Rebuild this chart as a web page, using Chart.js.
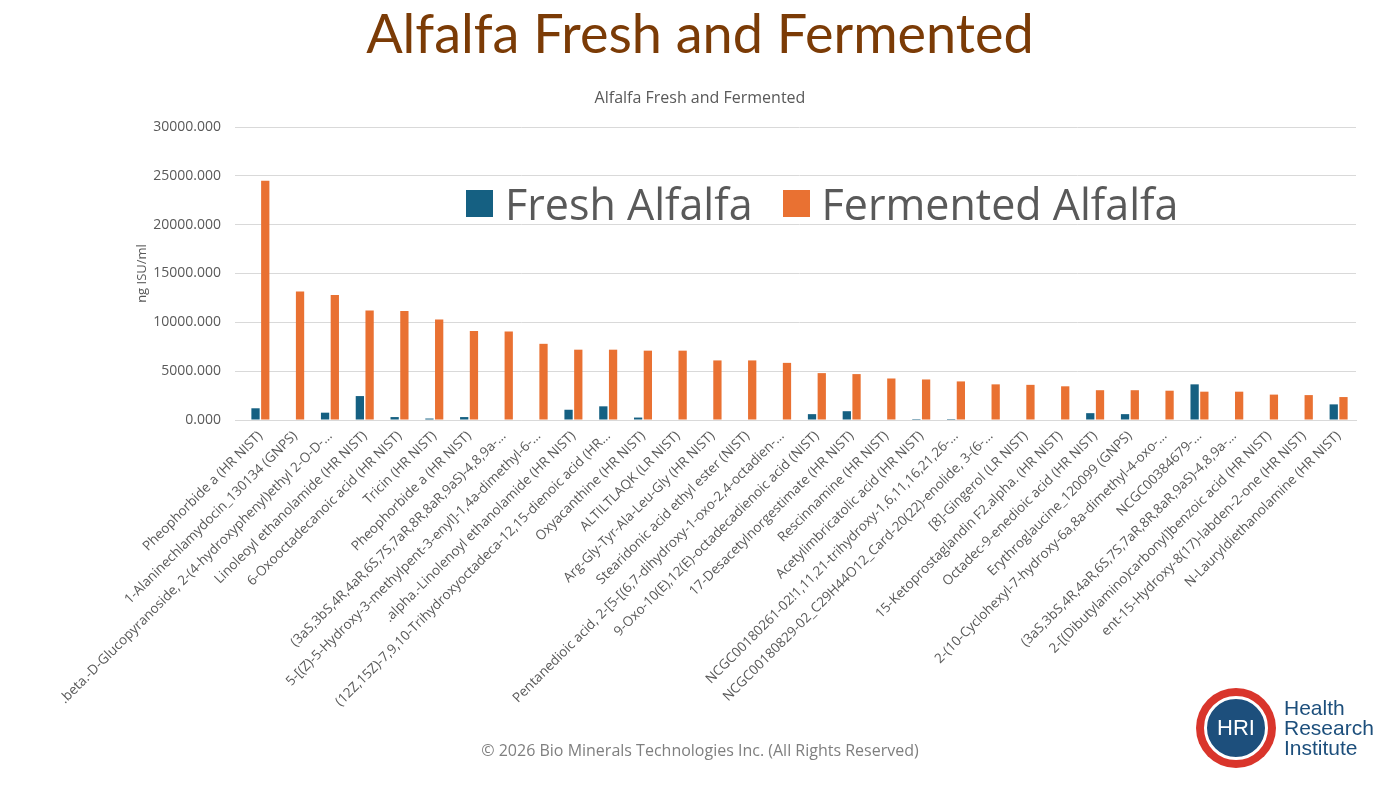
<!DOCTYPE html>
<html>
<head>
<meta charset="utf-8">
<script src="https://cdn.jsdelivr.net/npm/chart.js@4"></script>
<style>
  body { margin: 0; width: 1400px; height: 787px; overflow: hidden; background: #fff; font-family: "Open Sans", "Noto Sans", sans-serif; position: relative; }
  #mainTitle { position: absolute; top: 0; left: 0; width: 1400px; text-align: center; color: #7B3B06; line-height: 66px; font-family: "Lato", sans-serif; font-size: 54px; }
  #subTitle { position: absolute; top: 86px; left: 0; width: 1400px; text-align: center; color: #595959; font-size: 16px; }
  #wrap { position: absolute; left: 0; top: 0; width: 1400px; height: 787px; }
  #legend { position: absolute; top: 174px; left: 466px; font-size: 43px; color: #595959; display: flex; align-items: center; white-space: nowrap; }
  #legend span.box { display: inline-block; width: 27px; height: 27px; margin-right: 12px; }
  #footer { position: absolute; top: 739px; left: 0; width: 1400px; text-align: center; font-size: 16px; color: #7f7f7f; }
  #logo { position: absolute; left: 1196px; top: 688px; width: 80px; height: 80px; border-radius: 50%; background: #d9352b; }
  #logo div { position: absolute; left: 8px; top: 8px; width: 58px; height: 58px; border-radius: 50%; background: #1d4f7c; border: 3px solid #fff; color: #fff; font-size: 22px; text-align: center; line-height: 58px; font-family: "Liberation Sans", sans-serif; }
  #logoText { position: absolute; left: 1284px; top: 698px; font-size: 21px; line-height: 20px; color: #1d4f7c; font-family: "Liberation Sans", sans-serif; }
</style>
</head>
<body>
<div id="wrap"><canvas id="chart" width="1400" height="787"></canvas></div>
<div id="mainTitle">Alfalfa Fresh and Fermented</div>
<div id="subTitle">Alfalfa Fresh and Fermented</div>
<div id="legend"><span class="box" style="background:#156082"></span>Fresh Alfalfa<span style="width:30px;display:inline-block"></span><span class="box" style="background:#E97132"></span>Fermented Alfalfa</div>
<div id="footer">© 2026 Bio Minerals Technologies Inc. (All Rights Reserved)</div>
<div id="logo"><div>HRI</div></div>
<div id="logoText">Health<br>Research<br>Institute</div>
<script>
// 類別名稱
const labels = [
  "Pheophorbide a (HR NIST)",
  "1-Alaninechlamydocin_130134 (GNPS)",
  ".beta.-D-Glucopyranoside, 2-(4-hydroxyphenyl)ethyl 2-O-D-...",
  "Linoleoyl ethanolamide (HR NIST)",
  "6-Oxooctadecanoic acid (HR NIST)",
  "Tricin (HR NIST)",
  "Pheophorbide a (HR NIST)",
  "(3aS,3bS,4R,4aR,6S,7S,7aR,8R,8aR,9aS)-4,8,9a-...",
  "5-[(Z)-5-Hydroxy-3-methylpent-3-enyl]-1,4a-dimethyl-6-...",
  ".alpha.-Linolenoyl ethanolamide (HR NIST)",
  "(12Z,15Z)-7,9,10-Trihydroxyoctadeca-12,15-dienoic acid (HR...",
  "Oxyacanthine (HR NIST)",
  "ALTILTLAQK (LR NIST)",
  "Arg-Gly-Tyr-Ala-Leu-Gly (HR NIST)",
  "Stearidonic acid ethyl ester (NIST)",
  "Pentanedioic acid, 2-[5-[(6,7-dihydroxy-1-oxo-2,4-octadien-...",
  "9-Oxo-10(E),12(E)-octadecadienoic acid (NIST)",
  "17-Desacetylnorgestimate (HR NIST)",
  "Rescinnamine (HR NIST)",
  "Acetylimbricatolic acid (HR NIST)",
  "NCGC00180261-02!1,11,21-trihydroxy-1,6,11,16,21,26-...",
  "NCGC00180829-02_C29H44O12_Card-20(22)-enolide, 3-(6-...",
  "[8]-Gingerol (LR NIST)",
  "15-Ketoprostaglandin F2.alpha. (HR NIST)",
  "Octadec-9-enedioic acid (HR NIST)",
  "Erythroglaucine_120099 (GNPS)",
  "2-(10-Cyclohexyl-7-hydroxy-6a,8a-dimethyl-4-oxo-...",
  "NCGC00384679-...",
  "(3aS,3bS,4R,4aR,6S,7S,7aR,8R,8aR,9aS)-4,8,9a-...",
  "2-[(Dibutylamino)carbonyl]benzoic acid (HR NIST)",
  "ent-15-Hydroxy-8(17)-labden-2-one (HR NIST)",
  "N-Lauryldiethanolamine (HR NIST)"
];
const freshValues = [1200, 50, 750, 2450, 300, 150, 300, 50, 0, 1050, 1400, 250, 0, 0, 0, 0,
  600, 900, 0, 100, 100, 0, 0, 0, 700, 600, 0, 3650, 0, 0, 0, 1600];
const fermentedValues = [24500, 13150, 12800, 11200, 11150, 10300, 9100, 9050, 7800, 7200, 7200, 7100,
  7100, 6100, 6100, 5850, 4800, 4700, 4250, 4150, 3950, 3650, 3600, 3450, 3050, 3050, 3000, 2900,
  2900, 2600, 2550, 2350];
const yTicks = [0, 5000, 10000, 15000, 20000, 25000, 30000];

const ctx = document.getElementById('chart').getContext('2d');
new Chart(ctx, {
  type: 'bar',
  data: {
    labels: labels,
    datasets: [
      { label: 'Fresh Alfalfa', data: freshValues, backgroundColor: '#156082' },
      { label: 'Fermented Alfalfa', data: fermentedValues, backgroundColor: '#E97132' }
    ]
  },
  options: {
    responsive: false,
    animation: false,
    categoryPercentage: 0.56,
    barPercentage: 0.85,
    layout: { padding: { top: 127, right: 44, left: 134, bottom: 0 } },
    plugins: {
      legend: { display: false },
      tooltip: { enabled: false }
    },
    scales: {
      x: {
        grid: { display: false },
        border: { color: '#d9d9d9' },
        ticks: {
          autoSkip: false, minRotation: 45, maxRotation: 45, color: '#595959',
          font: { family: 'Open Sans', size: 13.5 }, padding: 0
        },
        afterFit: function(scale) { scale.height = 367; }
      },
      y: {
        min: 0, max: 30000,
        afterBuildTicks: function(scale) { scale.ticks = yTicks.map(v => ({ value: v })); },
        grid: { color: '#d9d9d9' },
        border: { display: false },
        ticks: {
          color: '#595959', font: { family: 'Open Sans', size: 14 }, padding: 14,
          callback: v => v.toFixed(3)
        },
        title: { display: true, text: 'ng ISU/ml', color: '#595959', font: { family: 'Open Sans', size: 13 }, padding: 0 },
        afterFit: function(scale) { scale.width = 109; }
      }
    }
  }
});
</script>
</body>
</html>
